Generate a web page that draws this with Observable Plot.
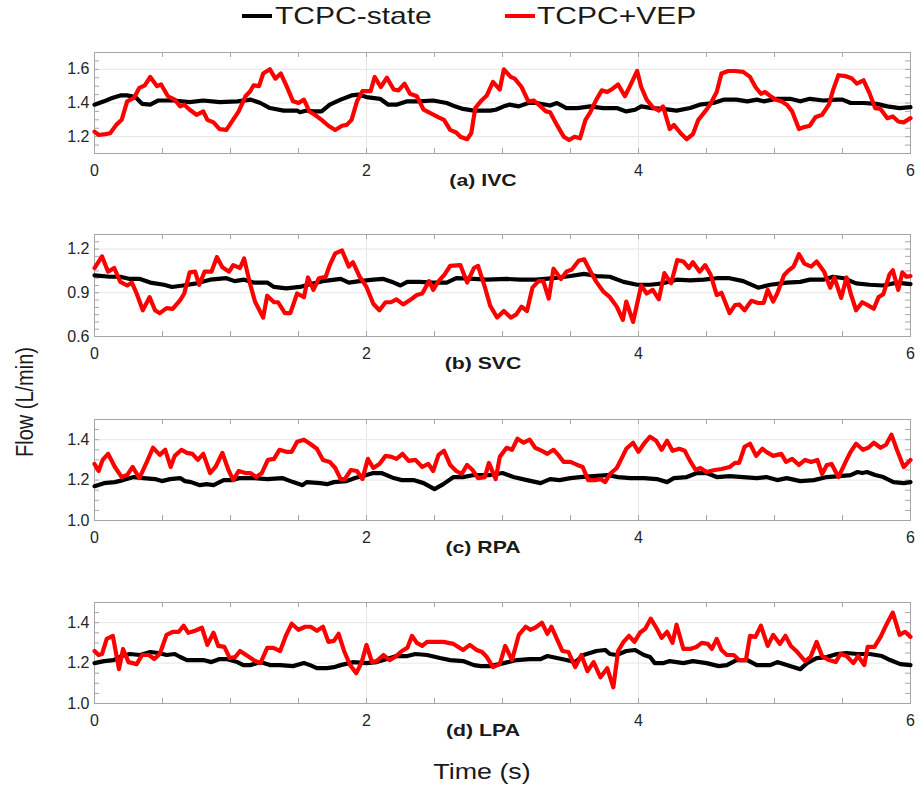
<!DOCTYPE html>
<html>
<head>
<meta charset="utf-8">
<script src="https://cdn.jsdelivr.net/npm/d3@7"></script>
<script src="https://cdn.jsdelivr.net/npm/@observablehq/plot@0.6"></script>
<style>
  html, body { margin: 0; padding: 0; background: #fff; }
  #root { position: relative; width: 920px; height: 792px; overflow: hidden; background: #fff;
          font-family: "Liberation Sans", Arial, Helvetica, sans-serif; color: #1a1a1a; }
  .abs { position: absolute; white-space: nowrap; line-height: 1; }
  .panel { position: absolute; left: 0; }
  .panel svg { background: transparent !important; }
</style>
</head>
<body>
<div id="root"></div>
<script>
// ---------------- data (time s, flow L/min) ----------------
const seriesNames = ["TCPC-state", "TCPC+VEP"];
const panelTitles = ["(a) IVC", "(b) SVC", "(c) RPA", "(d) LPA"];
const xTickLabels = [0, 2, 4, 6];
const yTicksIVC = [1.2, 1.4, 1.6];
const yTicksSVC = [0.6, 0.9, 1.2];
const yTicksRPA = [1.0, 1.2, 1.4];
const yTicksLPA = [1.0, 1.2, 1.4];

const ivcState = [[0,1.39],[0.07,1.41],[0.13,1.43],[0.19,1.445],[0.24,1.445],[0.30,1.435],[0.35,1.395],[0.41,1.39],[0.47,1.415],[0.58,1.415],[0.70,1.405],[0.80,1.415],[0.92,1.405],[1.05,1.41],[1.15,1.42],[1.22,1.40],[1.29,1.37],[1.39,1.355],[1.49,1.355],[1.51,1.345],[1.56,1.355],[1.61,1.35],[1.67,1.35],[1.73,1.39],[1.81,1.42],[1.89,1.445],[1.94,1.45],[2.00,1.435],[2.10,1.425],[2.16,1.39],[2.22,1.39],[2.30,1.41],[2.39,1.41],[2.49,1.415],[2.59,1.40],[2.65,1.38],[2.71,1.365],[2.79,1.355],[2.91,1.355],[2.95,1.36],[3.01,1.38],[3.05,1.39],[3.12,1.38],[3.19,1.40],[3.25,1.40],[3.35,1.385],[3.40,1.40],[3.47,1.37],[3.55,1.37],[3.645,1.38],[3.74,1.37],[3.84,1.37],[3.91,1.35],[3.975,1.36],[4.02,1.38],[4.10,1.37],[4.18,1.365],[4.28,1.355],[4.38,1.37],[4.45,1.39],[4.55,1.40],[4.625,1.42],[4.72,1.42],[4.80,1.41],[4.87,1.42],[4.92,1.41],[5.02,1.425],[5.115,1.425],[5.19,1.41],[5.26,1.425],[5.36,1.415],[5.46,1.42],[5.50,1.42],[5.56,1.40],[5.655,1.40],[5.75,1.395],[5.83,1.38],[5.92,1.37],[6.00,1.375]];
const ivcVEP = [[0,1.23],[0.03,1.21],[0.08,1.215],[0.115,1.22],[0.16,1.27],[0.20,1.30],[0.24,1.41],[0.29,1.43],[0.33,1.49],[0.37,1.505],[0.41,1.555],[0.46,1.50],[0.49,1.51],[0.54,1.44],[0.59,1.42],[0.63,1.38],[0.66,1.39],[0.70,1.36],[0.75,1.33],[0.80,1.35],[0.83,1.30],[0.875,1.285],[0.92,1.245],[0.97,1.24],[1.01,1.29],[1.06,1.35],[1.11,1.44],[1.145,1.47],[1.17,1.505],[1.21,1.50],[1.24,1.575],[1.29,1.60],[1.33,1.545],[1.37,1.575],[1.41,1.505],[1.46,1.41],[1.50,1.40],[1.54,1.42],[1.58,1.35],[1.62,1.33],[1.67,1.30],[1.72,1.265],[1.77,1.24],[1.82,1.265],[1.855,1.27],[1.89,1.30],[1.93,1.41],[1.97,1.47],[2.03,1.47],[2.06,1.555],[2.105,1.495],[2.15,1.55],[2.20,1.48],[2.235,1.475],[2.28,1.515],[2.32,1.455],[2.37,1.44],[2.42,1.36],[2.47,1.34],[2.53,1.315],[2.57,1.30],[2.615,1.24],[2.66,1.225],[2.69,1.20],[2.74,1.185],[2.77,1.22],[2.80,1.37],[2.84,1.41],[2.885,1.445],[2.93,1.525],[2.98,1.48],[3.01,1.60],[3.06,1.555],[3.09,1.545],[3.14,1.495],[3.19,1.41],[3.23,1.415],[3.28,1.38],[3.32,1.35],[3.35,1.345],[3.40,1.27],[3.45,1.20],[3.49,1.18],[3.53,1.20],[3.57,1.19],[3.61,1.30],[3.645,1.345],[3.69,1.42],[3.73,1.475],[3.77,1.465],[3.81,1.485],[3.85,1.51],[3.90,1.44],[3.94,1.505],[3.99,1.59],[4.02,1.495],[4.06,1.42],[4.105,1.375],[4.15,1.355],[4.18,1.38],[4.23,1.245],[4.26,1.27],[4.31,1.22],[4.355,1.185],[4.40,1.215],[4.44,1.30],[4.49,1.35],[4.53,1.395],[4.575,1.465],[4.61,1.575],[4.66,1.59],[4.71,1.59],[4.77,1.585],[4.82,1.555],[4.86,1.495],[4.90,1.455],[4.93,1.465],[4.98,1.435],[5.01,1.42],[5.05,1.41],[5.09,1.39],[5.13,1.35],[5.18,1.245],[5.21,1.255],[5.26,1.265],[5.30,1.315],[5.35,1.33],[5.40,1.39],[5.43,1.475],[5.47,1.565],[5.52,1.56],[5.57,1.545],[5.605,1.515],[5.655,1.535],[5.70,1.455],[5.74,1.37],[5.78,1.365],[5.83,1.31],[5.87,1.32],[5.91,1.29],[5.95,1.285],[6.00,1.31]];

const svcState = [[0,1.02],[0.115,1.01],[0.19,1.01],[0.26,0.995],[0.335,0.995],[0.41,0.97],[0.51,0.955],[0.57,0.94],[0.65,0.95],[0.75,0.965],[0.85,0.99],[0.97,1.0],[1.03,0.98],[1.10,0.99],[1.17,0.97],[1.27,0.97],[1.32,0.94],[1.41,0.93],[1.51,0.94],[1.59,0.96],[1.68,0.98],[1.81,0.995],[1.87,0.97],[1.95,0.98],[2.05,0.99],[2.125,0.995],[2.20,0.97],[2.25,0.95],[2.30,0.975],[2.39,0.975],[2.49,0.97],[2.59,0.97],[2.66,1.0],[2.79,0.995],[2.885,0.99],[3.03,0.995],[3.13,0.99],[3.25,0.99],[3.375,1.0],[3.50,1.015],[3.60,1.03],[3.69,1.015],[3.79,1.01],[3.89,0.975],[3.99,0.955],[4.085,0.955],[4.18,0.965],[4.28,0.99],[4.38,0.985],[4.48,0.99],[4.575,1.0],[4.67,1.0],[4.77,0.98],[4.88,0.935],[4.97,0.955],[5.09,0.97],[5.19,0.975],[5.26,0.99],[5.36,0.99],[5.43,1.01],[5.51,1.0],[5.60,0.965],[5.70,0.955],[5.80,0.95],[5.90,0.97],[6.0,0.96]];
const svcVEP = [[0,1.07],[0.055,1.15],[0.10,1.045],[0.145,1.07],[0.19,0.975],[0.24,0.95],[0.275,0.97],[0.31,0.895],[0.355,0.78],[0.405,0.87],[0.445,0.78],[0.48,0.76],[0.53,0.795],[0.575,0.79],[0.63,0.85],[0.66,0.895],[0.70,1.04],[0.74,1.045],[0.77,0.955],[0.81,1.045],[0.86,1.045],[0.90,1.145],[0.94,1.075],[0.99,1.045],[1.02,1.09],[1.07,1.07],[1.10,1.135],[1.14,0.975],[1.18,0.84],[1.24,0.73],[1.27,0.88],[1.32,0.835],[1.35,0.835],[1.40,0.76],[1.44,0.76],[1.49,0.895],[1.54,0.87],[1.57,1.005],[1.61,0.92],[1.65,1.0],[1.70,1.01],[1.73,1.09],[1.77,1.17],[1.82,1.19],[1.87,1.08],[1.90,1.11],[1.95,1.01],[2.00,0.94],[2.05,0.825],[2.095,0.78],[2.14,0.835],[2.18,0.835],[2.22,0.855],[2.27,0.82],[2.32,0.85],[2.37,0.885],[2.41,0.895],[2.46,0.98],[2.49,0.92],[2.53,0.98],[2.57,1.02],[2.615,1.085],[2.69,1.09],[2.74,0.97],[2.79,1.07],[2.82,1.085],[2.87,0.94],[2.91,0.81],[2.96,0.73],[3.01,0.775],[3.06,0.73],[3.10,0.75],[3.14,0.805],[3.18,0.775],[3.22,0.935],[3.265,0.98],[3.30,0.98],[3.34,0.86],[3.375,1.065],[3.43,0.995],[3.47,1.045],[3.51,1.06],[3.56,1.12],[3.60,1.13],[3.645,1.05],[3.69,0.975],[3.74,0.91],[3.79,0.87],[3.84,0.805],[3.885,0.715],[3.91,0.84],[3.96,0.70],[4.02,0.95],[4.06,0.895],[4.105,0.92],[4.15,0.855],[4.19,1.035],[4.24,0.965],[4.285,1.125],[4.33,1.115],[4.37,1.07],[4.40,1.11],[4.45,1.045],[4.49,1.09],[4.53,1.025],[4.575,0.885],[4.61,0.90],[4.67,0.76],[4.71,0.815],[4.74,0.82],[4.78,0.78],[4.83,0.845],[4.88,0.83],[4.92,0.83],[4.95,0.92],[4.99,0.84],[5.02,0.895],[5.07,1.02],[5.10,1.05],[5.14,1.08],[5.18,1.165],[5.22,1.10],[5.27,1.08],[5.31,1.115],[5.365,1.045],[5.41,0.935],[5.44,1.005],[5.49,0.865],[5.53,1.005],[5.56,0.895],[5.60,0.78],[5.645,0.835],[5.685,0.815],[5.73,0.79],[5.765,0.87],[5.80,0.89],[5.845,1.025],[5.87,1.055],[5.91,0.92],[5.94,1.04],[5.97,1.01],[6.00,1.015]];

const rpaState = [[0,1.17],[0.07,1.185],[0.15,1.19],[0.21,1.20],[0.29,1.215],[0.36,1.21],[0.445,1.205],[0.495,1.195],[0.555,1.205],[0.63,1.21],[0.665,1.195],[0.71,1.19],[0.775,1.175],[0.825,1.18],[0.875,1.175],[0.95,1.20],[1.01,1.20],[1.07,1.21],[1.17,1.21],[1.27,1.205],[1.38,1.21],[1.46,1.19],[1.53,1.175],[1.56,1.19],[1.66,1.185],[1.71,1.18],[1.76,1.19],[1.855,1.195],[1.915,1.21],[2.00,1.225],[2.05,1.235],[2.11,1.235],[2.20,1.21],[2.26,1.20],[2.345,1.20],[2.42,1.185],[2.50,1.155],[2.565,1.18],[2.64,1.215],[2.71,1.215],[2.79,1.225],[2.91,1.225],[3.00,1.235],[3.08,1.215],[3.18,1.20],[3.28,1.185],[3.35,1.205],[3.42,1.20],[3.50,1.21],[3.57,1.215],[3.67,1.22],[3.77,1.225],[3.85,1.215],[3.94,1.21],[4.04,1.21],[4.135,1.205],[4.21,1.19],[4.26,1.21],[4.355,1.215],[4.43,1.235],[4.50,1.235],[4.575,1.215],[4.67,1.22],[4.77,1.215],[4.87,1.21],[4.94,1.215],[5.02,1.20],[5.09,1.21],[5.19,1.195],[5.29,1.20],[5.385,1.215],[5.48,1.22],[5.56,1.225],[5.61,1.24],[5.645,1.235],[5.68,1.24],[5.74,1.225],[5.80,1.215],[5.875,1.19],[5.95,1.185],[6.0,1.19]];
const rpaVEP = [[0,1.28],[0.03,1.245],[0.06,1.30],[0.10,1.33],[0.15,1.265],[0.20,1.215],[0.24,1.225],[0.28,1.265],[0.33,1.21],[0.385,1.29],[0.43,1.36],[0.48,1.325],[0.52,1.35],[0.56,1.265],[0.59,1.32],[0.64,1.35],[0.68,1.335],[0.72,1.33],[0.76,1.30],[0.80,1.33],[0.85,1.235],[0.89,1.265],[0.94,1.335],[0.985,1.25],[1.02,1.20],[1.06,1.245],[1.11,1.235],[1.145,1.235],[1.19,1.215],[1.23,1.235],[1.275,1.30],[1.32,1.305],[1.36,1.35],[1.41,1.34],[1.45,1.34],[1.49,1.39],[1.54,1.40],[1.585,1.38],[1.635,1.355],[1.68,1.30],[1.73,1.29],[1.77,1.26],[1.81,1.205],[1.84,1.205],[1.885,1.25],[1.93,1.245],[1.97,1.205],[2.01,1.305],[2.05,1.26],[2.095,1.28],[2.14,1.32],[2.185,1.315],[2.22,1.305],[2.265,1.33],[2.31,1.295],[2.36,1.30],[2.41,1.265],[2.455,1.28],[2.49,1.245],[2.53,1.325],[2.57,1.345],[2.615,1.275],[2.66,1.245],[2.70,1.23],[2.74,1.275],[2.78,1.25],[2.82,1.21],[2.87,1.215],[2.90,1.285],[2.95,1.205],[2.98,1.315],[3.03,1.36],[3.07,1.35],[3.11,1.405],[3.155,1.385],[3.20,1.40],[3.24,1.36],[3.29,1.345],[3.33,1.33],[3.375,1.35],[3.41,1.325],[3.45,1.29],[3.50,1.29],[3.55,1.275],[3.59,1.265],[3.63,1.20],[3.68,1.20],[3.72,1.205],[3.755,1.19],[3.79,1.23],[3.84,1.26],[3.885,1.32],[3.91,1.355],[3.96,1.385],[4.00,1.34],[4.04,1.38],[4.085,1.415],[4.13,1.395],[4.17,1.35],[4.21,1.395],[4.25,1.345],[4.30,1.355],[4.34,1.345],[4.375,1.30],[4.42,1.25],[4.455,1.26],[4.50,1.24],[4.56,1.25],[4.61,1.255],[4.67,1.265],[4.71,1.285],[4.74,1.285],[4.78,1.365],[4.82,1.38],[4.865,1.32],[4.91,1.355],[4.94,1.34],[4.99,1.32],[5.05,1.33],[5.085,1.29],[5.13,1.305],[5.18,1.275],[5.225,1.30],[5.27,1.29],[5.315,1.30],[5.35,1.23],[5.385,1.275],[5.42,1.28],[5.47,1.215],[5.53,1.30],[5.56,1.34],[5.60,1.38],[5.65,1.35],[5.69,1.36],[5.73,1.385],[5.78,1.36],[5.82,1.375],[5.86,1.425],[5.90,1.35],[5.95,1.265],[6.00,1.30]];

const lpaState = [[0,1.20],[0.07,1.21],[0.14,1.215],[0.20,1.235],[0.26,1.245],[0.335,1.24],[0.41,1.255],[0.47,1.25],[0.53,1.24],[0.59,1.245],[0.63,1.23],[0.68,1.215],[0.74,1.215],[0.80,1.215],[0.86,1.205],[0.92,1.22],[0.97,1.22],[1.05,1.205],[1.095,1.19],[1.145,1.19],[1.22,1.205],[1.29,1.19],[1.365,1.19],[1.46,1.185],[1.54,1.20],[1.585,1.19],[1.635,1.175],[1.71,1.175],[1.76,1.18],[1.81,1.19],[1.905,1.205],[2.00,1.20],[2.075,1.205],[2.15,1.22],[2.22,1.235],[2.30,1.235],[2.36,1.245],[2.445,1.24],[2.54,1.225],[2.615,1.215],[2.71,1.21],[2.79,1.19],[2.84,1.185],[2.91,1.185],[3.01,1.20],[3.105,1.215],[3.20,1.22],[3.28,1.22],[3.33,1.235],[3.40,1.225],[3.47,1.215],[3.535,1.205],[3.595,1.24],[3.69,1.26],[3.755,1.265],[3.79,1.245],[3.84,1.24],[3.91,1.26],[3.975,1.265],[4.04,1.24],[4.085,1.23],[4.12,1.20],[4.185,1.20],[4.23,1.21],[4.33,1.20],[4.40,1.21],[4.50,1.20],[4.59,1.185],[4.65,1.19],[4.72,1.215],[4.80,1.215],[4.87,1.19],[4.97,1.19],[5.02,1.205],[5.09,1.19],[5.19,1.17],[5.24,1.20],[5.31,1.225],[5.385,1.23],[5.46,1.245],[5.53,1.25],[5.61,1.245],[5.70,1.245],[5.79,1.235],[5.85,1.215],[5.925,1.195],[6.0,1.19]];
const lpaVEP = [[0,1.26],[0.03,1.24],[0.055,1.245],[0.09,1.32],[0.135,1.335],[0.18,1.17],[0.21,1.27],[0.25,1.205],[0.31,1.195],[0.35,1.24],[0.40,1.24],[0.44,1.22],[0.48,1.245],[0.53,1.34],[0.575,1.355],[0.62,1.355],[0.655,1.385],[0.69,1.35],[0.74,1.36],[0.79,1.375],[0.83,1.29],[0.875,1.35],[0.91,1.285],[0.955,1.28],[0.995,1.225],[1.035,1.23],[1.07,1.26],[1.115,1.24],[1.17,1.215],[1.22,1.20],[1.27,1.275],[1.315,1.275],[1.365,1.26],[1.41,1.34],[1.45,1.395],[1.50,1.365],[1.55,1.38],[1.59,1.38],[1.635,1.36],[1.68,1.38],[1.72,1.305],[1.76,1.31],[1.795,1.345],[1.835,1.26],[1.88,1.19],[1.925,1.15],[1.965,1.205],[2.00,1.29],[2.04,1.205],[2.075,1.21],[2.125,1.24],[2.17,1.215],[2.21,1.23],[2.26,1.26],[2.30,1.275],[2.335,1.335],[2.37,1.30],[2.41,1.285],[2.445,1.305],[2.505,1.305],[2.565,1.305],[2.64,1.295],[2.675,1.28],[2.71,1.265],[2.76,1.29],[2.81,1.265],[2.85,1.255],[2.885,1.23],[2.93,1.18],[2.98,1.195],[3.02,1.285],[3.07,1.215],[3.12,1.34],[3.17,1.38],[3.205,1.365],[3.24,1.375],[3.29,1.40],[3.33,1.345],[3.36,1.38],[3.40,1.32],[3.44,1.26],[3.485,1.255],[3.535,1.18],[3.58,1.24],[3.625,1.16],[3.67,1.205],[3.72,1.13],[3.77,1.175],[3.815,1.08],[3.85,1.26],[3.89,1.305],[3.93,1.335],[3.97,1.305],[4.01,1.35],[4.05,1.37],[4.09,1.42],[4.135,1.37],[4.17,1.325],[4.21,1.355],[4.25,1.30],[4.28,1.39],[4.33,1.27],[4.38,1.27],[4.425,1.28],[4.465,1.30],[4.51,1.295],[4.54,1.27],[4.575,1.32],[4.61,1.265],[4.65,1.24],[4.70,1.24],[4.74,1.215],[4.79,1.215],[4.82,1.335],[4.86,1.33],[4.90,1.385],[4.95,1.285],[4.99,1.34],[5.04,1.295],[5.08,1.335],[5.12,1.285],[5.16,1.26],[5.225,1.21],[5.265,1.23],[5.31,1.305],[5.35,1.235],[5.40,1.215],[5.45,1.205],[5.485,1.245],[5.53,1.235],[5.58,1.20],[5.615,1.235],[5.66,1.19],[5.685,1.28],[5.735,1.28],[5.78,1.33],[5.83,1.40],[5.87,1.45],[5.92,1.34],[5.96,1.355],[6.0,1.33]];

// ---------------- layout ----------------
const FONT = '"Liberation Sans", Arial, Helvetica, sans-serif';
const W = 920, ML = 94, MR = 10, MT = 8, MB = 30;
const STRETCH = 1.22;
const stateColor = "#000000", vepColor = "#ff0000";
const frameColor = "#a6a6a6", gridColor = "#e6e6e6", tickText = "#262626";

const panels = [
  {title: panelTitles[0], state: ivcState, vep: ivcVEP, domain: [1.1, 1.7], ticks: yTicksIVC, top: 52, bottom: 153},
  {title: panelTitles[1], state: svcState, vep: svcVEP, domain: [0.6, 1.3], ticks: yTicksSVC, top: 234, bottom: 336},
  {title: panelTitles[2], state: rpaState, vep: rpaVEP, domain: [1.0, 1.5], ticks: yTicksRPA, top: 419, bottom: 520},
  {title: panelTitles[3], state: lpaState, vep: lpaVEP, domain: [1.0, 1.5], ticks: yTicksLPA, top: 602, bottom: 703}
];

const root = document.getElementById("root");

function addText(txt, {left, top, size, weight = "normal", transform = "", origin = "left center"}) {
  const d = document.createElement("div");
  d.className = "abs";
  d.textContent = txt;
  d.style.left = left + "px";
  d.style.top = top + "px";
  d.style.fontSize = size + "px";
  d.style.fontWeight = weight;
  d.style.transform = transform;
  d.style.transformOrigin = origin;
  root.appendChild(d);
  return d;
}

const xMinor = d3.range(0, 6.0001, 0.5);

for (const p of panels) {
  const ph = p.bottom - p.top;
  const pw = W - ML - MR;
  const yMinor = d3.range(p.domain[0], p.domain[1] + 1e-9, 0.05);
  const chart = Plot.plot({
    width: W,
    height: ph + MT + MB,
    marginLeft: ML, marginRight: MR, marginTop: MT, marginBottom: MB,
    style: {fontFamily: FONT, fontSize: "16px", color: tickText, background: "transparent", overflow: "visible"},
    x: {domain: [0, 6], label: null},
    y: {domain: p.domain, label: null},
    marks: [
      Plot.gridY(p.ticks, {stroke: gridColor, strokeOpacity: 1}),
      Plot.gridX(xTickLabels, {stroke: gridColor, strokeOpacity: 1}),
      Plot.tickY(yMinor, {y: d => d, insetRight: pw - 5, stroke: frameColor}),
      Plot.tickY(yMinor, {y: d => d, insetLeft: pw - 5, stroke: frameColor}),
      Plot.tickX(xMinor, {x: d => d, insetTop: ph - 5, stroke: frameColor}),
      Plot.tickX(xMinor, {x: d => d, insetBottom: ph - 5, stroke: frameColor}),
      Plot.frame({stroke: frameColor}),
      Plot.axisY(p.ticks, {tickSize: 0, tickPadding: 5, fontSize: 16, label: null, tickFormat: d => d.toFixed(1)}),
      Plot.axisX(xTickLabels, {tickSize: 0, tickPadding: 11, fontSize: 16, label: null, tickFormat: d => String(d)}),
      Plot.line(p.state, {x: d => d[0], y: d => d[1], stroke: stateColor, strokeWidth: 4.2}),
      Plot.line(p.vep, {x: d => d[0], y: d => d[1], stroke: vepColor, strokeWidth: 4.2})
    ]
  });
  const wrap = document.createElement("div");
  wrap.className = "panel";
  wrap.style.top = (p.top - MT) + "px";
  wrap.appendChild(chart);
  root.appendChild(wrap);

  // panel title, centred below the axis
  addText(p.title, {left: 483, top: p.bottom + 27.5 - 8.5, size: 17, weight: "bold",
    transform: `translateX(-50%) scaleX(${STRETCH + 0.03})`, origin: "center center"});
}

// legend
function legendSwatch(left, color) {
  const s = document.createElement("div");
  s.style.position = "absolute";
  s.style.left = left + "px";
  s.style.top = "13.5px";
  s.style.width = "30px";
  s.style.height = "4px";
  s.style.background = color;
  root.appendChild(s);
}
legendSwatch(242, stateColor);
addText(seriesNames[0], {left: 275, top: 3.5, size: 24, transform: `scaleX(${STRETCH + 0.03})`});
legendSwatch(505, vepColor);
addText(seriesNames[1], {left: 537, top: 3.5, size: 24, transform: `scaleX(${STRETCH + 0.03})`});

// axis titles
addText("Time (s)", {left: 482, top: 772 - 11, size: 22, transform: `translateX(-50%) scaleX(${STRETCH})`, origin: "center center"});
const yl = addText("Flow (L/min)", {left: 24, top: 402, size: 20,
  transform: `translate(-50%, -50%) rotate(-90deg) scaleY(${STRETCH})`, origin: "center center"});
</script>
</body>
</html>
